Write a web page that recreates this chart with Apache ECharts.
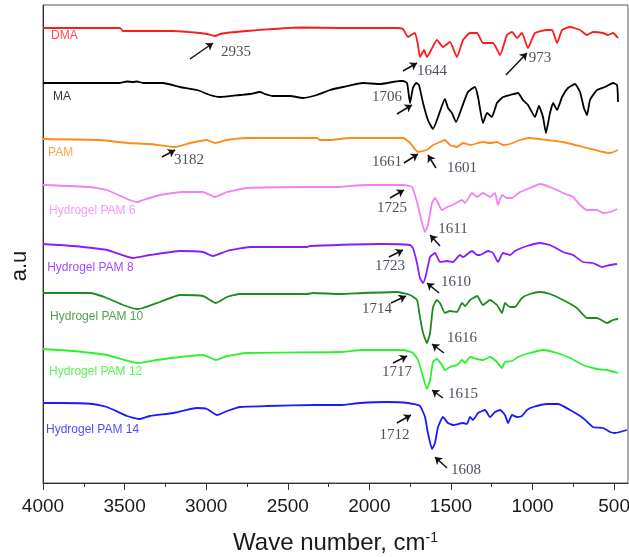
<!DOCTYPE html>
<html><head><meta charset="utf-8">
<script src="https://cdn.jsdelivr.net/npm/echarts@6/dist/echarts.min.js"></script>
<style>html,body{margin:0;padding:0;background:#fff}#c{width:629px;height:557px}</style>
</head><body><div id="c"></div>
<script>
// ---- data (wavenumber cm-1, intensity a.u. incl. stacking offset) ----
const seriesNames = ['DMA','MA','PAM','Hydrogel PAM 6','Hydrogel PAM 8','Hydrogel PAM 10','Hydrogel PAM 12','Hydrogel PAM 14'];
const seriesColors = ['#ff1a1a','#000000','#ff8a1a','#f47ef4','#8a1aff','#1f8a1f','#2af22a','#1a1aff'];

const dma = [[4000,455],[3773,455],[3528,455],[3510,452],[3203,452],[3038,450],[2995,449],[2946,447],[2915,449],[2854,450.5],[2750,452],[2591,454],[2425,455.5],[2180,455],[1831,455],[1794,454],[1763,446],[1733,449],[1720,450],[1702,438],[1690,426],[1665,433],[1647,426],[1628,431],[1586,443],[1549,436],[1506,441],[1463,426],[1426,443],[1383,450],[1340,450],[1304,440],[1242,440],[1199,428],[1157,448],[1126,451],[1095,445],[1065,450],[1028,435],[985,450],[911,453],[880,453],[850,440],[819,453],[770,456],[709,453],[666,448],[630,451],[568,450],[538,448],[507,450],[476,445]];

const ma = [[4000,400],[3528,400],[3485,401.5],[3448,401],[3424,401.5],[3387,400],[3265,400],[3160,396],[3056,393],[2977,388],[2915,386],[2793,388],[2731,389],[2670,391],[2640,389],[2591,387],[2486,387],[2407,385],[2321,388],[2241,393],[2162,396],[2039,400],[1935,399],[1812,402],[1794,402],[1769,400],[1751,380],[1733,395],[1714,400],[1696,398],[1671,380],[1641,363],[1610,354],[1579,366],[1537,384],[1518,375],[1494,370],[1469,361],[1432,376],[1396,391],[1353,396],[1334,386],[1304,360],[1279,370],[1249,366],[1218,380],[1181,386],[1138,388],[1089,390],[1059,383],[1028,378],[985,366],[961,377],[936,366],[918,350],[893,370],[874,380],[850,373],[819,386],[783,395],[740,399],[709,391],[685,375],[666,368],[648,383],[605,393],[556,396],[507,400],[482,398],[476,381]];

const pam = [[4000,344],[3651,343],[3485,340],[3344,339],[3191,336],[3099,340],[2995,343],[2946,340],[2872,343],[2750,345],[2321,345],[2303,343],[2241,343],[2119,345],[1794,345],[1751,340],[1702,331],[1647,333],[1610,338],[1567,341],[1537,343],[1506,338],[1463,336],[1426,340],[1383,338],[1304,341],[1261,340],[1218,341],[1181,338],[1138,339],[1077,343],[1016,345],[911,343],[813,341],[691,336],[568,331],[525,330],[476,333]];

const pam6 = [[4000,298],[3712,296],[3608,293],[3485,284],[3424,281],[3387,283],[3283,288],[3142,291],[3020,291],[2946,286],[2872,291],[2750,295],[2382,296],[2180,296],[2119,297],[1996,298],[1794,298],[1739,296],[1708,281],[1677,260],[1659,251],[1641,258],[1616,280],[1598,285],[1579,280],[1555,273],[1524,276],[1488,278],[1457,281],[1432,283],[1414,280],[1371,290],[1340,286],[1304,290],[1261,286],[1230,290],[1212,278],[1187,288],[1157,285],[1126,285],[1077,291],[1016,295],[954,299],[893,296],[813,290],[752,286],[709,278],[666,273],[605,273],[568,270],[525,271],[482,274]];

const pam8 = [[4000,239],[3816,237],[3608,233],[3448,225],[3344,228],[3160,232],[3020,231],[2958,227],[2872,232],[2731,236],[2382,236],[2364,237],[1935,239],[1751,238],[1733,235],[1708,220],[1690,205],[1671,200],[1653,208],[1628,226],[1598,230],[1567,221],[1524,222],[1488,221],[1445,228],[1426,226],[1371,232],[1340,228],[1322,228],[1273,232],[1242,230],[1212,221],[1181,230],[1138,228],[1108,232],[1034,237],[954,240],[893,238],[813,231],[752,228],[691,221],[630,220],[574,216],[525,218],[482,219]];

const pam10 = [[4000,190],[3712,190],[3608,185],[3510,178],[3424,174],[3387,175],[3283,181],[3160,188],[3020,187],[2940,180],[2872,186],[2793,189],[2382,189],[2345,190],[2180,189],[2039,190],[1831,191],[1751,188],[1708,183],[1690,166],[1671,150],[1647,140],[1628,150],[1610,176],[1586,183],[1567,180],[1537,170],[1506,172],[1463,171],[1432,180],[1414,177],[1383,183],[1340,187],[1304,178],[1261,183],[1218,178],[1187,170],[1169,180],[1138,176],[1108,176],[1065,185],[1016,189],[954,191],[893,189],[813,183],[728,175],[666,165],[605,165],[544,160],[507,163],[476,164]];

const pam12 = [[4000,134],[3816,132],[3608,128],[3424,120],[3301,123],[3160,126],[3020,128],[2940,123],[2872,127],[2750,130],[2180,131],[2039,133],[1794,133],[1733,130],[1702,123],[1671,106],[1647,94],[1628,103],[1610,121],[1586,124],[1555,118],[1537,113],[1506,116],[1463,118],[1432,123],[1414,120],[1383,126],[1340,124],[1304,123],[1261,126],[1218,121],[1187,115],[1169,121],[1126,122],[1089,126],[1016,130],[936,133],[850,130],[770,125],[691,118],[605,114],[544,113],[476,110]];

const pam14 = [[4000,80],[3896,80],[3694,79],[3608,76],[3485,67],[3406,64],[3344,67],[3203,70],[3056,75],[2995,74],[2934,68],[2872,72],[2793,76],[2627,77],[2321,78],[2180,78],[2057,80],[1892,81],[1763,80],[1690,77],[1659,66],[1641,50],[1616,34],[1598,40],[1579,56],[1549,66],[1518,60],[1488,58],[1426,60],[1402,59],[1383,66],[1365,63],[1334,70],[1291,73],[1261,66],[1230,71],[1199,73],[1169,68],[1150,60],[1126,68],[1095,66],[1065,67],[1034,73],[997,76],[911,79],[844,79],[770,73],[691,65],[630,56],[568,55],[525,51],[495,50],[464,51],[421,53]];

const allSeries = [dma, ma, pam, pam6, pam8, pam10, pam12, pam14];

// tick values
const majorTicks = [500,1000,1500,2000,2500,3000,3500,4000];
const minorTicks = [750,1250,1750,2250,2750,3250,3750];

// annotation anchors in data units
const nameAnchors = [[3951,447.5],[3939,386],[3969,330],[3963,272],[3975,215],[3957,166],[3963,111],[3982,53]];
const peakTexts = [['2935',2817,431],['1644',1616,412],['973',954,425],['1706',1892,386],['3182',3105,323],['1661',1892,321],['1601',1432,315],['1725',1861,275],['1611',1488,254],['1723',1874,217],['1610',1469,201],['1714',1953,174],['1616',1432,145],['1717',1831,111],['1615',1426,89],['1712',1846,48],['1608',1408,13]];
const peakArrows = [[3099,424,2958,440],[1794,412,1708,420],[1163,408,1034,430],[1831,369,1739,378],[3271,326,3191,333],[1788,320,1702,329],[1592,315,1641,328],[1874,285,1788,293],[1567,237,1628,248],[1880,226,1794,233],[1573,190,1647,200],[1867,180,1776,187],[1543,130,1616,139],[1855,120,1769,127],[1549,85,1616,93],[1831,60,1745,68],[1524,15,1598,26]];

// ---- chart ----
const SANS = "'Liberation Sans', Arial, sans-serif";
const SERIF = "'Liberation Serif', 'Times New Roman', serif";
const XMIN = 415, XMAX = 4000;

const chart = echarts.init(document.getElementById('c'), null, {renderer: 'canvas'});

const lineSeries = allSeries.map((d, i) => ({
  type: 'line', name: seriesNames[i], data: d, showSymbol: false, symbol: 'none',
  smooth: 0.15,
  lineStyle: {color: seriesColors[i], width: 1.8}, itemStyle: {color: seriesColors[i]},
  z: 3, silent: true
}));

const option = {
  animation: false,
  backgroundColor: '#fff',
  grid: {left: 43, right: 1, top: 5, bottom: 74, show: true, borderColor: '#555', borderWidth: 1,
         containLabel: false, outerBoundsMode: 'none'},
  xAxis: [{
    type: 'value', min: XMIN, max: XMAX, inverse: true,
    axisLine: {show: true, lineStyle: {color: '#333', width: 1}},
    axisTick: {show: true, length: 7, inside: false, customValues: majorTicks, lineStyle: {color: '#333'}},
    axisLabel: {show: true, customValues: majorTicks, margin: 14, fontSize: 19, fontFamily: SANS, color: '#1a1a1a',
                formatter: v => String(v)},
    splitLine: {show: false},
    name: '{t|Wave number, cm}{s|-1}', nameLocation: 'middle', nameGap: 48,
    nameTextStyle: {rich: {
      t: {fontSize: 24, fontFamily: SANS, color: '#1a1a1a'},
      s: {fontSize: 14, fontFamily: SANS, color: '#1a1a1a', verticalAlign: 'top', lineHeight: 14}
    }}
  }, {
    type: 'value', min: XMIN, max: XMAX, inverse: true, position: 'bottom',
    axisLine: {show: false},
    axisTick: {show: true, length: 4, customValues: minorTicks, lineStyle: {color: '#333'}},
    axisLabel: {show: false}, splitLine: {show: false}
  }],
  yAxis: {
    type: 'value', min: 0, max: 478,
    axisLine: {show: true, lineStyle: {color: '#333'}},
    axisTick: {show: false}, axisLabel: {show: false}, splitLine: {show: false}
  },
  graphic: [{
    type: 'text', x: 20, y: 266, rotation: Math.PI / 2,
    style: {text: 'a.u', font: "22px 'Liberation Sans', Arial, sans-serif", fill: '#1a1a1a', align: 'center', verticalAlign: 'middle'}
  }],
  series: lineSeries.concat([
    {
      type: 'scatter', symbolSize: 0.1, itemStyle: {color: 'rgba(0,0,0,0)'}, silent: true, z: 6,
      data: nameAnchors.map((a, i) => ({
        value: a, name: seriesNames[i],
        label: {show: true, position: 'right', distance: 0, formatter: '{b}', fontSize: 12, fontFamily: SANS,
                color: seriesColors[i], align: 'left', verticalAlign: 'middle'}
      }))
    },
    {
      type: 'scatter', symbolSize: 0.1, itemStyle: {color: 'rgba(0,0,0,0)'}, silent: true, z: 6,
      data: peakTexts.map(p => ({
        value: [p[1], p[2]], name: p[0],
        label: {show: true, position: 'inside', formatter: '{b}', fontSize: 15, fontFamily: SERIF,
                color: '#222233', align: 'center', verticalAlign: 'middle'}
      }))
    },
    {
      type: 'lines', coordinateSystem: 'cartesian2d', silent: true, z: 7,
      symbol: ['none', 'arrow'], symbolSize: [0, 7],
      lineStyle: {color: '#111', width: 1.5, opacity: 1, curveness: 0},
      data: peakArrows.map(a => ({coords: [[a[0], a[1]], [a[2], a[3]]]}))
    }
  ])
};
chart.setOption(option);
</script>
</body></html>
